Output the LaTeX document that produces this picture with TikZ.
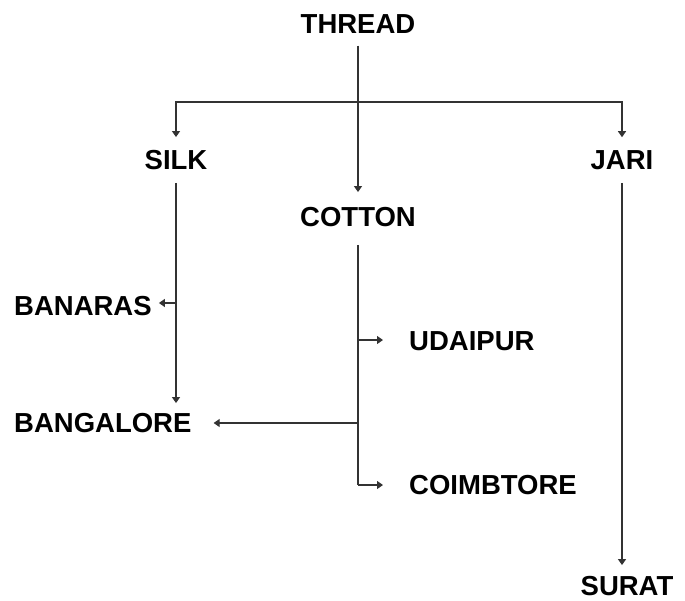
\documentclass[tikz,border=0pt]{standalone}
\usepackage{fontspec}
\setmainfont{Liberation Sans}
\usetikzlibrary{arrows.meta}

\tikzset{
  place/.style={font=\fontsize{27.5}{32}\selectfont\bfseries, inner sep=0pt},
  line/.style={draw=black!80, line width=1.2pt},
  link/.style={line, -{Triangle[width=8pt,length=6pt]}},
}

\begin{document}
\begin{tikzpicture}[x=1pt, y=-1pt]
  \useasboundingbox (0,0) rectangle (685,600);

  \node[place] (thread) at (358, 24) {THREAD};
  \node[place] (silk) at (176, 160) {SILK};
  \node[place] (cotton) at (358, 217) {COTTON};
  \node[place] (jari) at (622, 160) {JARI};
  \node[place, anchor=west] (banaras) at (14, 306) {BANARAS};
  \node[place, anchor=west] (bangalore) at (14, 423) {BANGALORE};
  \node[place, anchor=west] (udaipur) at (409, 341) {UDAIPUR};
  \node[place, anchor=west] (coimbtore) at (409, 485) {COIMBTORE};
  \node[place] (surat) at (627, 586) {SURAT};

  % thread branches
  \coordinate (split) at (358, 102);
  \draw[link, shorten <=12pt, shorten >=15pt] (thread) -- (cotton);
  \draw[link, shorten >=13pt] (split) -| (silk);
  \draw[link, shorten >=13pt] (split) -| (jari);

  % silk
  \coordinate (sb) at (176, 303);
  \draw[link, shorten <=13pt, shorten >=10pt] (silk) -- (silk |- bangalore.north);
  \draw[link, shorten >=7pt] (sb) -- (sb -| banaras.east);

  % cotton
  \coordinate (c1) at (358, 340);
  \coordinate (c2) at (358, 423);
  \coordinate (c3) at (358, 485);
  \draw[line, shorten <=18pt] (cotton) -- (c3);
  \draw[link, shorten >=26pt] (c1) -- (c1 -| udaipur.west);
  \draw[link, shorten >=22pt] (c2) -- (c2 -| bangalore.east);
  \draw[link, shorten >=26pt] (c3) -- (c3 -| coimbtore.west);

  % jari
  \draw[link, shorten <=13pt, shorten >=11pt] (jari) -- (jari |- surat.north);
\end{tikzpicture}
\end{document}
